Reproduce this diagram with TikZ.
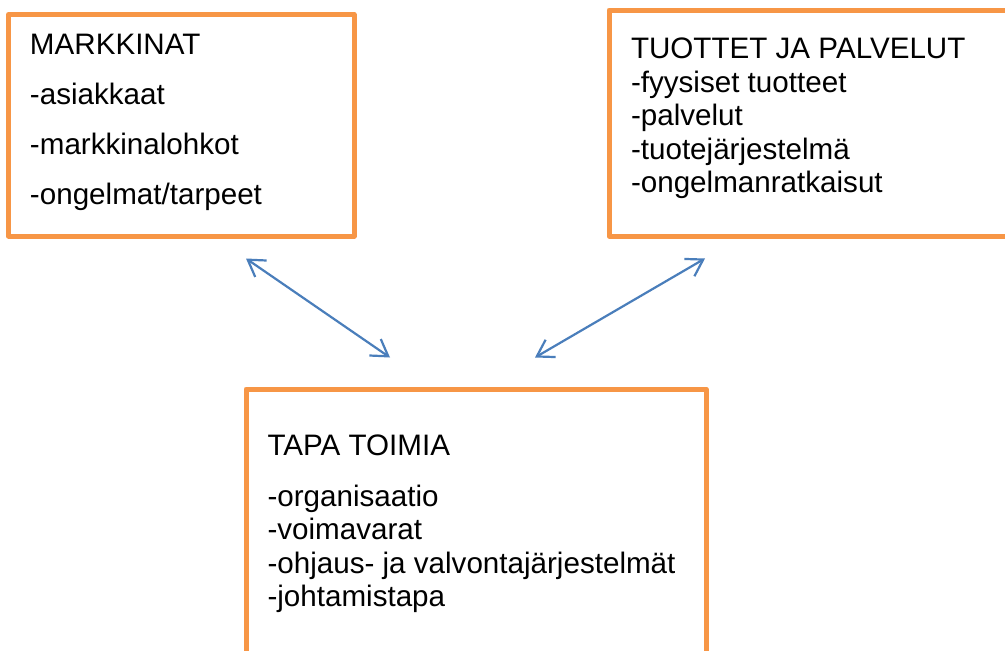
\documentclass[tikz,border=0pt]{standalone}
\usepackage{fontspec}
\setmainfont{Liberation Sans}
\usetikzlibrary{arrows.meta}
\definecolor{BoxOrange}{HTML}{F79646}
\definecolor{ArrowBlue}{HTML}{4A7EBB}

\begin{document}
\begin{tikzpicture}[x=1pt,y=-1pt,
    kasti/.style={draw=BoxOrange,line width=5pt,line join=round,inner sep=0pt,outer sep=0pt,anchor=north west},
    teksti/.style={align=left,inner sep=0pt,outer sep=0pt,anchor=north west,font=\fontsize{29.6}{33.4}\selectfont},
    nuoli/.style={ArrowBlue,line width=2.2pt,
      {Straight Barb[length=16pt,width=20pt]}-{Straight Barb[length=16pt,width=20pt]}}]
    \clip (0,0) rectangle (1005,651);
    \useasboundingbox (0,0) rectangle (1005,651);
    \node[kasti,minimum width=345.5pt,minimum height=221.5pt] (markkinat) at (8.5,14.5) {};
    \node[kasti,minimum width=410pt,minimum height=226pt] (tuotteet) at (609,10) {};
    \node[kasti,minimum width=460pt,minimum height=300pt] (tapa) at (246,389) {};
    \node[teksti] (markkinatTxt) at (30,34.2)
      {MARKKINAT\\[16.6pt]-asiakkaat\\[16.6pt]-markkinalohkot\\[16.6pt]-ongelmat/tarpeet};
    \node[teksti] (tuotteetTxt) at (631,38.2)
      {TUOTTET JA PALVELUT\\-fyysiset tuotteet\\-palvelut\\-tuotejärjestelmä\\-ongelmanratkaisut};
    \node[teksti] (tapaTxt) at (267.5,435.2)
      {TAPA TOIMIA\\[17.3pt]-organisaatio\\-voimavarat\\-ohjaus- ja valvontajärjestelmät\\-johtamistapa};
    \foreach \x/\y/\name in {246/258.5/m1,390/357.5/m2,535/357.5/t1,705/258.5/t2} {
     \coordinate (\name) at (\x,\y);
    }
    \draw[nuoli] (m1) -- (m2);
    \draw[nuoli] (t1) -- (t2);
\end{tikzpicture}
\end{document}
